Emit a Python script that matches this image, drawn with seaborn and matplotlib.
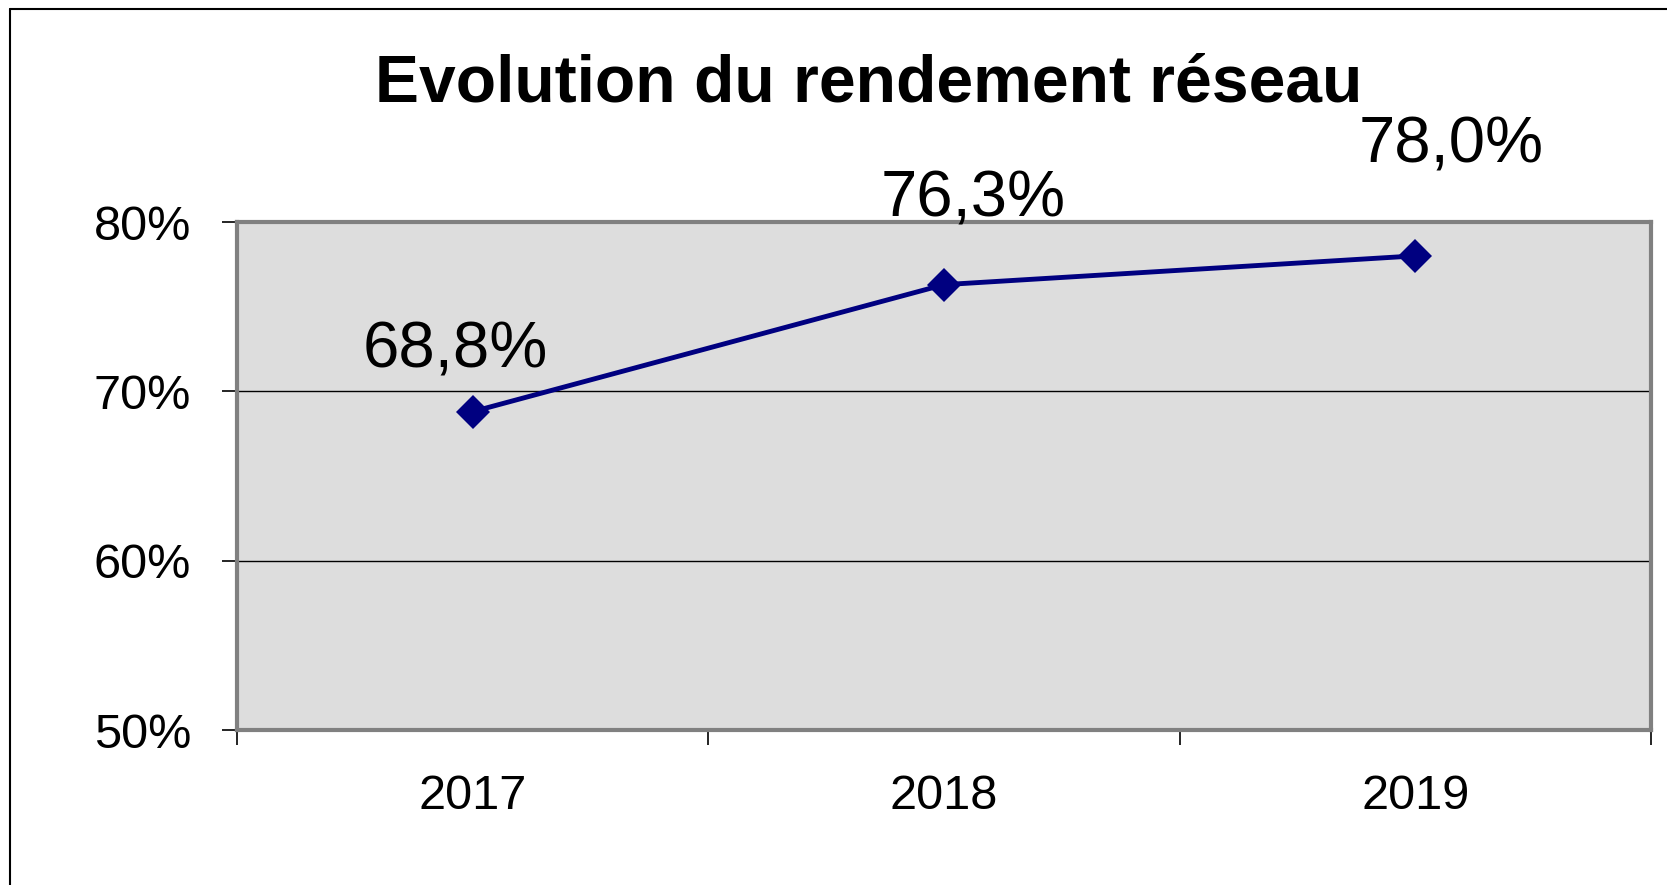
import numpy as np
import pandas as pd
import matplotlib
matplotlib.use('Agg')
import matplotlib.pyplot as plt
import seaborn as sns
from matplotlib.lines import Line2D

# data
years = ['2017', '2018', '2019']
rendement = [68.8, 76.3, 78.0]
value_labels = ['68,8%', '76,3%', '78,0%']
y_ticks = [50, 60, 70, 80]
y_tick_labels = ['50%', '60%', '70%', '80%']

# label offsets (pixels) relative to each point, excel-style manual placement
label_offsets = [(-17, 44), (29, 68), (36, 93)]

df = pd.DataFrame({'annee': years, 'rendement': rendement})

sns.set_style('white')
plt.rcParams['font.family'] = ['Liberation Sans', 'DejaVu Sans']
plt.rcParams['text.color'] = 'black'
plt.rcParams['xtick.color'] = 'black'
plt.rcParams['ytick.color'] = 'black'

fig = plt.figure(figsize=(16.67, 8.85), dpi=100)
ax = fig.add_axes([237/1667, 1 - 730/885, (1651-237)/1667, (730-222)/885])
ax.set_facecolor('#DDDDDD')

sns.lineplot(data=df, x='annee', y='rendement', ax=ax, color='#000080',
             linewidth=3.5, marker='D', markersize=17, markeredgewidth=0, zorder=5)

ax.set_xlim(-0.5, 2.5)
ax.set_ylim(50, 80)
ax.set_yticks(y_ticks)
ax.set_yticklabels(y_tick_labels)
ax.set_xticks(range(len(years)))
ax.set_xticklabels(years)
ax.set_xticks(np.arange(-0.5, len(years), 1.0), minor=True)
ax.set_xlabel('')
ax.set_ylabel('')

#gridlines
for yv in y_ticks[1:-1]:
    ax.axhline(yv, color='black', lw=1, zorder=1)

ax.tick_params(axis='y', which='major', length=11, width=1.2, color='black',
               labelcolor='black', labelsize=35, pad=22, direction='out', left=True)
ax.tick_params(axis='x', which='major', length=0, labelsize=35, pad=32,
               labelcolor='black')
ax.tick_params(axis='x', which='minor', length=11, width=1.2, color='black',
               direction='out', bottom=True)

for s in ax.spines.values():
    s.set_color('#808080')
    s.set_linewidth(3)
    s.set_visible(True)

for i, (lab, off) in enumerate(zip(value_labels, label_offsets)):
    ax.annotate(lab, xy=(i, rendement[i]), xytext=off, textcoords='offset pixels',
                ha='center', va='baseline', fontsize=47, color='black',
                annotation_clip=False)

fig.text(869/1667, 1 - 101/885, 'Evolution du rendement réseau', ha='center',
         va='baseline', fontsize=47.5, fontweight='bold', color='black')

# outer frame of the chart object (left and top edges visible)
fig.add_artist(Line2D([10/1667, 10/1667], [0, 1 - 9/885], color='black', lw=1.5,
                      transform=fig.transFigure))
fig.add_artist(Line2D([10/1667, 1], [1 - 9/885, 1 - 9/885], color='black', lw=1.5,
                      transform=fig.transFigure))

fig.savefig('out.png', dpi=100)
